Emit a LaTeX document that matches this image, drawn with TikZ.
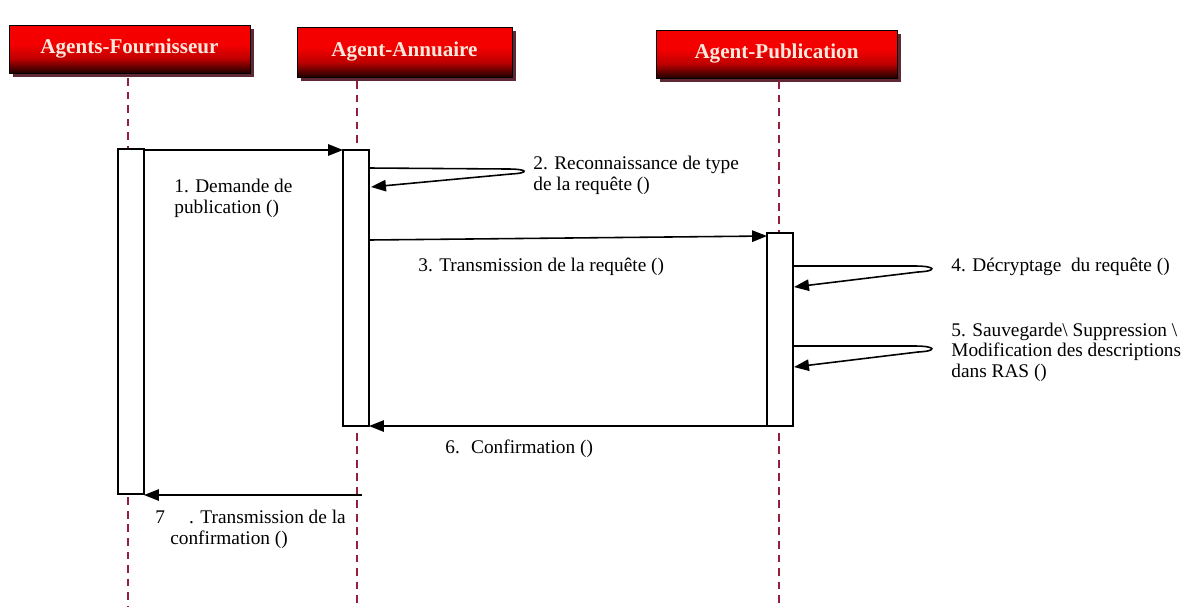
\documentclass[tikz,border=0pt]{standalone}
\usepackage{fontspec}
\setmainfont{Liberation Serif}
\usetikzlibrary{arrows.meta,shadows}
\definecolor{lifered}{RGB}{150,30,60}
\definecolor{hdrtop}{RGB}{245,0,0}
\definecolor{hdrmid}{RGB}{190,0,0}
\definecolor{hdrbot}{RGB}{30,0,0}
\definecolor{hdrshadow}{RGB}{95,40,52}
\definecolor{hdrtext}{RGB}{250,232,220}
% header fill: bright red on top, darkening towards the lower edge
\pgfdeclareverticalshading{hdrshade}{100bp}{%
  color(0bp)=(hdrbot); color(25bp)=(hdrbot); color(40bp)=(hdrmid);
  color(55bp)=(hdrtop); color(75bp)=(hdrtop); color(100bp)=(hdrtop)}
\tikzset{
  header/.style={draw=black, line width=0.5pt, rectangle, inner sep=0pt,
    shading=hdrshade,
    text=hdrtext, font=\fontsize{12}{14}\selectfont\bfseries,
    general shadow={fill=hdrshadow, shadow xshift=2.3pt, shadow yshift=-2.3pt}},
  lifeline/.style={draw=lifered, line width=0.75pt, dash pattern=on 4.5pt off 3.2pt},
  activation/.style={draw=black, fill=white, line width=0.8pt, rectangle, inner sep=0pt, minimum width=0.52cm},
  msg/.style={draw=black, line width=0.9pt, -{Triangle[length=8.5pt,width=6.5pt]}},
  lbl/.style={font=\fontsize{11}{11.6}\selectfont, align=left, anchor=base west, inner sep=0pt}
}
\begin{document}
\begin{tikzpicture}[x=0.02cm, y=-0.02cm]
\useasboundingbox (0,0) rectangle (1192,606);

% participant headers
\node[header, minimum width=4.82cm, minimum height=0.96cm] (hF) at (129.5,49) {\raisebox{-1.5pt}{Agents-Fournisseur}};
\node[header, minimum width=4.30cm, minimum height=1.00cm] (hA) at (404.5,52) {\raisebox{-1.5pt}{Agent-Annuaire}};
\node[header, minimum width=4.82cm, minimum height=0.96cm] (hP) at (776.5,54) {\raisebox{-1.5pt}{Agent-Publication}};

% lifelines
\coordinate (lF1) at (128,78);  \coordinate (lF2) at (128,606);
\coordinate (lA1) at (357,81);  \coordinate (lA2) at (357,606);
\coordinate (lP1) at (779,81);  \coordinate (lP2) at (779,606);
\draw[lifeline] (lF1) -- (lF2);
\draw[lifeline] (lA1) -- (lA2);
\draw[lifeline] (lP1) -- (lP2);

% activation bars
\node[activation, minimum height=6.90cm] (aF) at (131,321.5) {};
\node[activation, minimum height=5.52cm] (aA) at (356,288) {};
\node[activation, minimum height=3.86cm] (aP) at (780,329.5) {};

% message end points
\coordinate (m1s) at (144,150); \coordinate (m1e) at (343,150);
\coordinate (m2s) at (370,168); \coordinate (m2e) at (371,187);
\coordinate (m3s) at (369,240); \coordinate (m3e) at (767,236);
\coordinate (m4s) at (793,266); \coordinate (m4e) at (794,287);
\coordinate (m5s) at (793,346); \coordinate (m5e) at (794,367);
\coordinate (m6s) at (767,426); \coordinate (m6e) at (369,426);
\coordinate (m7s) at (362,495); \coordinate (m7e) at (144,495);

% messages
\draw[msg] (m1s) -- (m1e);
\draw[msg] (m2s) -- (508,169) .. controls (528,169) and (530,173) .. (511,174) -- (m2e);
\draw[msg] (m3s) -- (m3e);
\draw[msg] (m4s) -- (915,266) .. controls (936,266) and (938,271) .. (918,272) -- (m4e);
\draw[msg] (m5s) -- (915,346) .. controls (936,346) and (938,351) .. (918,352) -- (m5e);
\draw[msg] (m6s) -- (m6e);
\draw[msg] (m7s) -- (m7e);

% message labels (base anchor sits on the last line)
\node[lbl] (t1) at (174,213) {1. Demande de\\publication ()};
\node[lbl] (t2) at (533,190) {2. Reconnaissance de type\\de la requête ()};
\node[lbl] (t3) at (418,271) {3. Transmission de la requête ()};
\node[lbl] (t4) at (951,271) {4. Décryptage~ du requête ()};
\node[lbl] (t5) at (951,377) {5. Sauvegarde\textbackslash{} Suppression \textbackslash\\Modification des descriptions\\dans RAS ()};
\node[lbl] (t6) at (445,453) {6.~ Confirmation ()};
\node[lbl] (t7) at (155,544) {7\quad\ . Transmission de la\\\hspace*{8.5pt}confirmation ()};
\end{tikzpicture}
\end{document}
